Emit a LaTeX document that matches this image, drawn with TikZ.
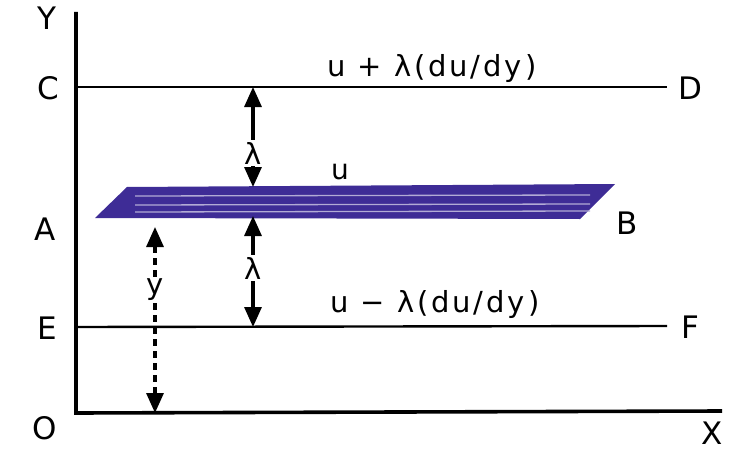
\documentclass[tikz,border=0pt]{standalone}
\usepackage{fontspec}
\setmainfont{DejaVu Sans}
\newfontfamily\largofont[LetterSpace=10]{DejaVu Sans}
\usetikzlibrary{arrows.meta}
\definecolor{inchiostro}{RGB}{62,44,150}

\begin{document}
\begin{tikzpicture}[x=1pt, y=1pt,
    lettera/.style={font=\fontsize{31}{33}\selectfont, inner sep=0pt},
    formula/.style={font=\largofont\fontsize{29}{32}\selectfont, inner sep=0pt, anchor=base west},
    greca/.style={font=\fontsize{29}{30}\selectfont, inner sep=2pt},
    freccia/.style={-{Triangle[length=20pt, width=17pt]}, line width=3.2pt},
    linea/.style={line width=2.4pt}]

\useasboundingbox (0,0) rectangle (744,-452);

%% ---- Assi (x=[76,722], y=[-12,-413]) ----
\coordinate (cimaY) at (76,-12);
\coordinate (orig)  at (76,-413);
\coordinate (fineX) at (722,-411);
\draw[line width=3.6pt] (cimaY) -- (orig) -- (fineX);
\node[lettera] (lY) at (47,-18)  {Y};
\node[lettera] (lO) at (45,-428) {O};
\node[lettera] (lX) at (712,-433) {X};

%% ---- Strati CD ed EF ----
\coordinate (c) at (76,-87);   \coordinate (d) at (667,-87);
\coordinate (e) at (76,-327);  \coordinate (f) at (667,-326);
\draw[linea] (c) -- (d);
\draw[linea] (e) -- (f);
\node[lettera] (lC) at (48,-88)  {C};
\node[lettera] (lD) at (690,-88) {D};
\node[lettera] (lE) at (47,-328) {E};
\node[lettera] (lF) at (690,-327) {F};
\node[formula] (vsup) at (327,-77)  {u + λ(du/dy)};
\node[formula] (vinf) at (330,-312) {u − λ(du/dy)};

%% ---- Lamina AB ----
\fill[inchiostro] (95,-218) -- (127,-187) -- (615,-184) -- (580,-219) -- cycle;
\foreach \s in {196,205,212}
    \draw[white!60!inchiostro, line width=1.3pt] (135,-\s) -- (590,-\s+1);
\node[lettera] (lA) at (45,-229)  {A};
\node[lettera] (lB) at (627,-223) {B};
\node[font=\fontsize{28}{30}\selectfont] (lu) at (340,-172) {u};

%% ---- Distanze lambda e y ----
\coordinate (pSopra) at (253,-187);
\coordinate (pSotto) at (253,-216);
\coordinate (cL) at (253,-87);
\coordinate (eL) at (253,-327);
\node[greca] (lam1) at (253,-153) {λ};
\node[greca] (lam2) at (253,-268) {λ};
\draw[freccia] (lam1) -- (cL);
\draw[freccia] (lam1) -- (pSopra);
\draw[freccia] (lam2) -- (pSotto);
\draw[freccia] (lam2) -- (eL);

\coordinate (yA) at (155,-227);
\coordinate (yO) at (155,-413);
\node[greca] (ly) at (155,-290) {y};
\draw[freccia, dash pattern=on 7pt off 5pt] (ly) -- (yA);
\draw[freccia, dash pattern=on 7pt off 5pt] (ly) -- (yO);

\end{tikzpicture}
\end{document}
